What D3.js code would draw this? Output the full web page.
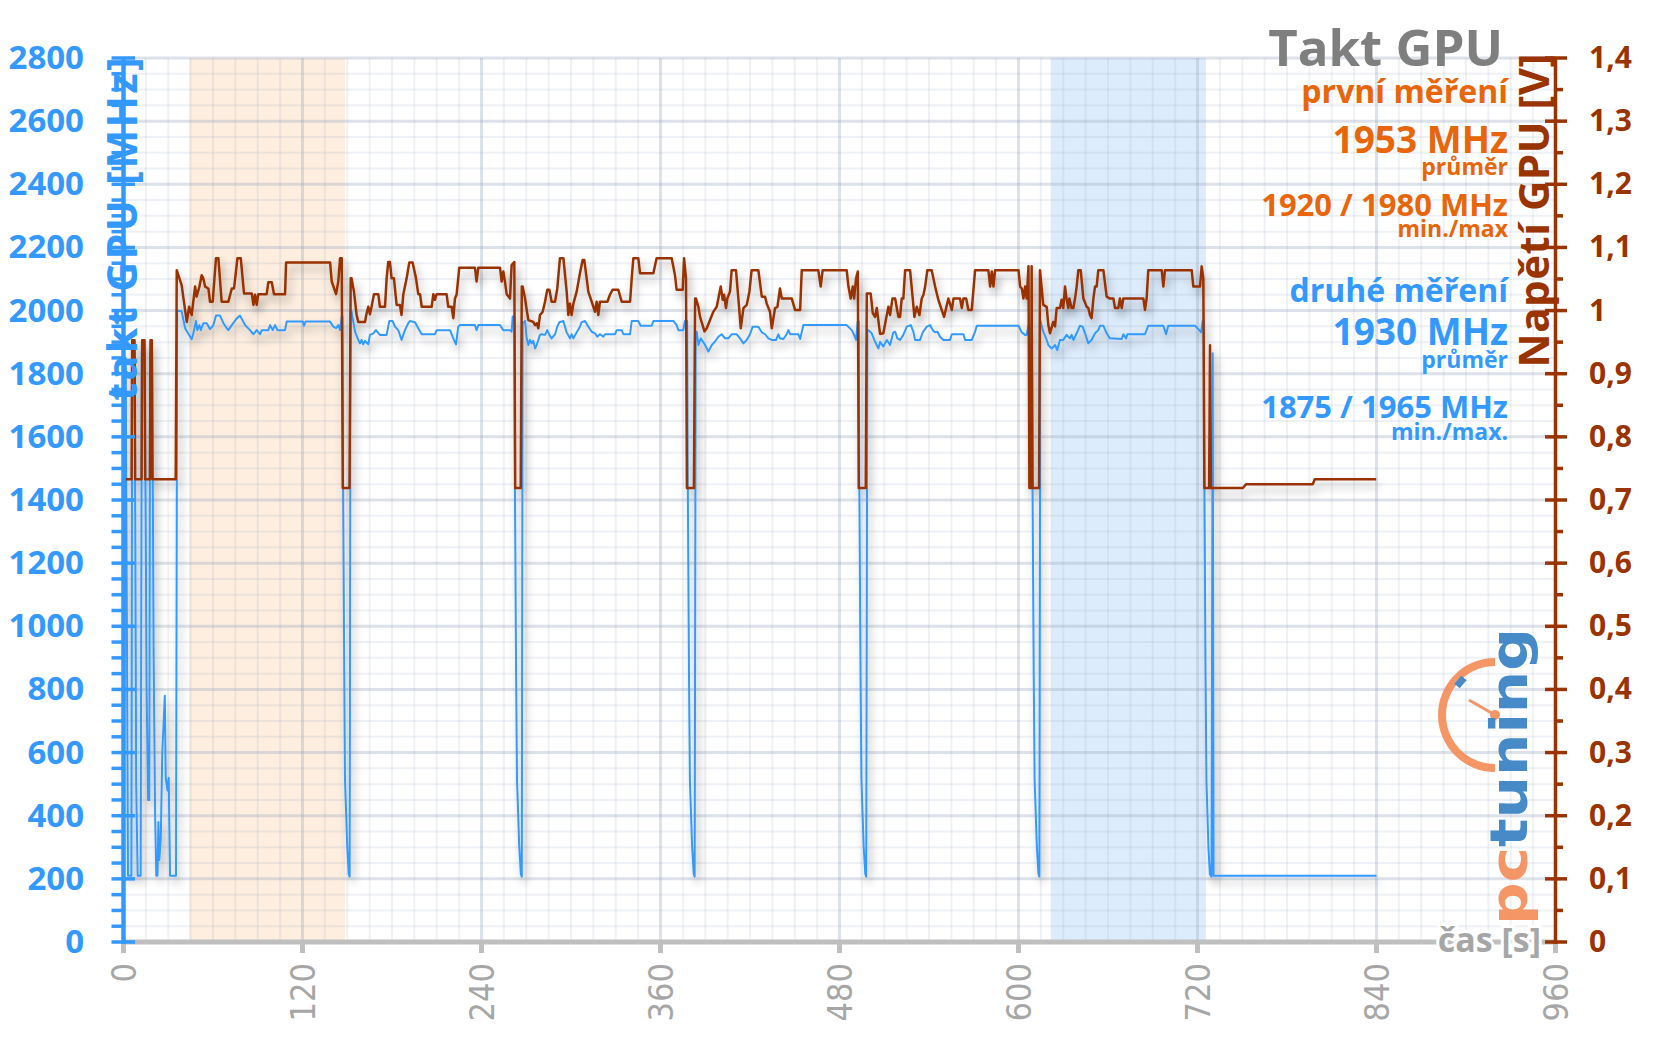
<!DOCTYPE html>
<html>
<head>
<meta charset="utf-8">
<script src="https://cdn.jsdelivr.net/npm/d3@7"></script>
<style>
  body { margin: 0; background: #fff; }
  svg { display: block; font-family: "Open Sans", Lato, sans-serif; }
</style>
</head>
<body>
<svg id="chart" width="1656" height="1044"></svg>
<script>
// tick values
const casTicks = [0, 120, 240, 360, 480, 600, 720, 840, 960];
const taktTicks = [0, 200, 400, 600, 800, 1000, 1200, 1400, 1600, 1800, 2000, 2200, 2400, 2600, 2800];
const napetiTicks = [0, 0.1, 0.2, 0.3, 0.4, 0.5, 0.6, 0.7, 0.8, 0.9, 1, 1.1, 1.2, 1.3, 1.4];

// highlighted time windows [s]
const prvniOkno = [44, 148.5];
const druheOkno = [621.6, 725.6];

// GPU clock [MHz] over time [s]
const taktData = [
  [0,210],[1.5,1850],[3,210],[5.3,210],[5.8,1866],[7.5,1866],[8.5,500],[9.5,210],[11.5,210],[12.3,1866],
  [14.2,1866],[15.5,800],[16.5,450],[17.3,450],[17.8,1866],[19.2,1866],[20.2,900],[21.2,400],[22,210],
  [22.8,210],[23.4,380],[24,260],[25,330],[26,600],[27.7,780],[28.3,520],[29.5,480],[30.3,520],[31.2,210],
  [35.2,210],[36,2000],
  [37.5,1999],[39,1997],[41.3,1944],[45.7,1909],[46.8,1928],[48.6,1967],[49.5,1938],[50.9,1954],[51.8,1938],
  [53.6,1960],[55.8,1960],[58,1941],[60.3,1954],[62,1984],[64.7,1984],[67,1960],[69.2,1944],[70.3,1938],
  [72.6,1954],[75.9,1975],[78.1,1984],[81.5,1954],[84.8,1938],[87.1,1925],[89.3,1938],[91.5,1925],[92.7,1938],
  [97.1,1938],[98.3,1954],[100,1938],[101.6,1954],[103.2,1938],[108.3,1938],[109.4,1965],[120.2,1965],
  [121,1952],[122,1965],[138.5,1965],[140.7,1949],[142.5,1944],[144,1954],[145.2,1938],[146.3,1981],
  [146.8,1981],[147.2,1450],[148,850],[148.5,513],[150,302],[151,215],[151.6,207],[152.2,1997],
  [152.9,1997],[155.2,1933],[157.4,1907],[158.5,1896],[159.6,1907],[160.7,1893],[161.9,1904],[164.1,1893],
  [165.2,1923],[167.5,1928],[169.2,1938],[171.9,1923],[176.4,1923],[178.2,1967],[180.4,1967],[182,1949],
  [184.2,1938],[186.4,1907],[188.7,1938],[190.9,1960],[192,1967],[195.4,1963],[197.6,1944],[199.9,1925],
  [208.8,1925],[209.9,1938],[218.9,1938],[221.1,1912],[222.9,1893],[224.4,1949],[225.6,1954],[235.6,1954],
  [236.7,1938],[237.9,1954],[252.4,1954],[254.6,1938],[259.1,1938],[260.2,1933],[260.9,1981],
  [262,1981],[262.4,1450],[263.2,850],[263.8,513],[265.3,302],[266.4,215],[267,207],[267.6,1960],
  [269.2,1967],[270.3,1912],[271.4,1891],[272.5,1907],[273.6,1896],[274.7,1904],[275.9,1880],[277,1891],
  [278.1,1907],[279.2,1923],[280.3,1925],[282.6,1923],[284.1,1938],[285.5,1923],[287,1912],[289.3,1925],
  [290.8,1949],[292.2,1963],[294.9,1967],[296,1949],[297.1,1931],[299.3,1912],[300.4,1925],[301.6,1912],
  [303.8,1931],[306,1949],[307.1,1963],[309.4,1967],[311.6,1949],[313.9,1933],[316.1,1928],[317.6,1917],
  [319.4,1925],[321.7,1917],[322.8,1925],[329.5,1925],[330.6,1938],[334,1938],[335.1,1925],[339.6,1925],
  [340.7,1967],[345.1,1967],[346.7,1952],[354.1,1952],[355.2,1967],[368.6,1967],[370.8,1954],[372,1938],
  [375.3,1938],[376.4,1967],
  [377.9,1967],[378.3,1450],[379.1,850],[379.7,513],[381.2,302],[382.3,215],[382.9,207],[383.6,1933],
  [384.3,1933],[385.4,1891],[387,1912],[389.9,1891],[392.1,1870],[394.4,1891],[396.6,1902],[398.8,1917],
  [401,1925],[403.3,1912],[405.5,1912],[407.7,1925],[411,1925],[413.3,1912],[415.6,1896],[417.8,1907],
  [420,1925],[421.8,1949],[425.6,1949],[427.9,1931],[430.1,1925],[432.3,1912],[434.6,1907],[437.5,1907],
  [439,1925],[440.1,1912],[442.4,1910],[444.6,1925],[445.7,1938],[447,1925],[452.4,1925],[453.6,1910],
  [455.8,1954],[484.8,1954],[488.2,1938],[489.3,1928],[491.1,1907],[492.2,1965],
  [492.9,1965],[493.3,1450],[494.1,850],[494.7,513],[496.2,302],[497.3,215],[497.9,207],[498.7,1938],
  [499.4,1938],[501.6,1928],[503.8,1902],[506.1,1880],[507.2,1901],[509.4,1886],[511.7,1907],[513.9,1891],
  [516.1,1931],[517.3,1933],[518.8,1912],[520.6,1907],[522.8,1923],[525.1,1949],[527.8,1954],[529.5,1933],
  [530.7,1907],[534,1907],[535.8,1931],[538.5,1949],[540.7,1954],[542.5,1938],[544.1,1931],[545.7,1933],
  [547.4,1917],[549.7,1907],[554.1,1907],[555.3,1925],[563.1,1925],[564.2,1907],[568.7,1907],[570.9,1933],
  [572,1952],[600,1952],[602.2,1931],[604.4,1923],[605.5,1923],[606.7,1954],
  [607.3,1954],[607.6,1450],[608.3,1450],[608.9,1967],[609.4,1450],[610.2,850],[610.8,513],[612.3,302],
  [613.4,215],[614,207],[614.6,1970],
  [616.6,1933],[618.9,1907],[620,1891],[622.2,1880],[624.5,1891],[626,1875],[627.8,1907],[630,1907],
  [632.3,1923],[634.5,1912],[635.6,1923],[636.8,1907],[639,1928],[641.2,1952],[643,1949],[644.6,1928],
  [646.8,1896],[649,1907],[651.3,1928],[653.5,1938],[654.6,1952],[656.9,1952],[659.1,1928],[661.3,1912],
  [669.2,1910],[670.3,1925],[672.1,1912],[673,1925],[684.8,1925],[687,1952],[697.1,1952],[698.9,1925],
  [700.4,1952],[718.3,1952],[721.2,1938],[722.4,1931],[723.5,1967],
  [724.2,1967],[724.6,1450],[725.4,850],[726,513],[727.3,302],[728.3,215],[729.4,207],[730.2,1865],
  [730.8,210],[840,210]
];

// GPU voltage [V] over time [s]
const napetiData = [
  [0,0.733],[5.4,0.733],[5.8,0.953],[7.4,0.953],[7.8,0.733],[12.1,0.733],[12.5,0.953],[14.1,0.953],[14.5,0.733],
  [17.7,0.733],[18.1,0.953],[19,0.953],[19.4,0.733],[35,0.733],[35.7,1.064],
  [39,1.040],[42.4,0.982],[44,1.006],[45.7,0.993],[48,1.038],[49,1.022],[50.9,1.038],[52.4,1.056],[53.5,1.051],
  [54.7,1.038],[56.9,1.035],[58,1.014],[59.8,1.014],[62,1.083],[63.6,1.083],[65.8,1.014],[70.3,1.014],
  [72.6,1.035],[74.1,1.035],[76.4,1.083],[78.6,1.083],[80.8,1.027],[86,1.027],[87.1,1.009],[88.2,1.025],
  [89.3,1.009],[90.4,1.026],[96,1.026],[97.1,1.045],[99.4,1.045],[100.9,1.026],[108.3,1.026],[109,1.076],
  [138.5,1.076],[139.6,1.046],[142.5,1.026],[144,1.046],[145.2,1.083],[146.3,1.083],
  [147,0.719],[151.5,0.719],[152.3,1.051],
  [152.9,1.051],[154.5,1.030],[156.3,0.993],[157.4,0.982],[161.9,0.982],[163,0.996],[164.1,1.006],[165.2,0.994],
  [166.3,1.006],[167.9,1.026],[170.8,1.026],[171.9,1.006],[175.3,1.006],[176.4,1.051],[177.5,1.077],[178.6,1.077],
  [179.7,1.051],[181.3,1.051],[183.1,1.009],[185.3,1.009],[186.4,0.993],[187.6,1.026],[189.8,1.051],[191.6,1.076],
  [193.8,1.076],[196.1,1.051],[197.6,1.026],[198.8,1.026],[199.9,1.006],[206.6,1.006],[207.7,1.026],[208.8,1.017],
  [209.9,1.026],[216.6,1.026],[217.7,1.006],[220,1.006],[221.1,0.988],[222.2,1.019],[223.3,1.025],[225.1,1.068],
  [235.6,1.068],[236.7,1.046],[237.9,1.068],[252.4,1.068],[253.5,1.046],[254.6,1.062],[255.7,1.046],[256.9,1.026],
  [259.1,1.019],[260.2,1.072],[262,1.077],
  [262.6,0.719],[266.3,0.719],[267,1.038],
  [267.6,1.038],[269.2,1.019],[270.3,1.001],[271.4,0.985],[274.7,0.982],[275.9,0.977],[277,0.980],[278.1,0.972],
  [279.2,0.993],[281,0.998],[282.6,1.014],[284.1,1.033],[285.5,1.033],[287,1.014],[289.3,1.014],[290.8,1.035],
  [292.6,1.083],[294.9,1.083],[297.1,1.030],[298.2,0.993],[299.3,1.011],[300.4,0.993],[301.6,1.011],[303.8,1.030],
  [306,1.059],[307.8,1.080],[308.9,1.080],[310.5,1.051],[311.6,1.030],[313.9,1.014],[316.1,0.998],[317.2,1.014],
  [318.3,0.993],[319.4,1.014],[324.4,1.014],[326.1,1.025],[327.9,1.033],[331.7,1.033],[334,1.014],[339.6,1.014],
  [340.7,1.051],[341.8,1.083],[345.1,1.083],[346.3,1.059],[355.2,1.059],[357.4,1.083],[367.5,1.083],[369.7,1.056],
  [370.8,1.033],[374.9,1.033],[375.8,1.083],[377.1,1.051],
  [377.7,0.719],[382.4,0.719],[383.2,1.019],
  [383.8,1.019],[385.4,1.006],[386.5,0.990],[389.5,0.967],[391,0.972],[393.2,0.985],[395.4,0.998],[397.7,1.006],
  [398.8,1.019],[400.4,1.038],[401.7,1.017],[402.6,1.025],[403.9,1.004],[404.8,1.019],[406.6,1.030],[407.7,1.064],
  [410.6,1.064],[412.2,1.019],[413.8,0.972],[415.6,1.004],[417.8,1.009],[419.6,1.030],[421.1,1.064],[425.6,1.064],
  [427.9,1.022],[430.1,1.022],[431.2,1.011],[433.4,0.998],[434.6,0.972],[436.8,1.004],[438.4,1.006],[440.1,1.035],
  [441.3,1.019],[448,1.019],[450.2,1.001],[453.6,1.001],[454.7,1.064],[465.8,1.064],[467.4,1.038],[468.7,1.064],
  [484.8,1.064],[486,1.038],[487.5,1.019],[488.9,1.038],[489.8,1.019],[491.1,1.051],[492.3,1.062],
  [492.9,0.719],[497.6,0.719],[498.3,1.027],
  [500.9,1.027],[502.3,0.996],[503.8,0.990],[505,1.004],[507.2,0.963],[509.4,0.964],[511.7,0.993],[512.8,1.006],
  [513.9,0.993],[515.5,1.019],[517.3,1.019],[518.4,1.004],[519.5,0.990],[520.6,0.990],[521.7,1.019],[522.8,1.019],
  [524,1.064],[527.3,1.064],[529.1,1.019],[530.2,0.990],[531.8,1.006],[533.6,0.993],[535.1,1.019],[536.3,1.025],
  [537.4,1.038],[538.9,1.064],[541.8,1.064],[544.1,1.038],[546.3,1.017],[548.5,1.001],[550.1,0.990],[551.5,1.004],
  [553,1.019],[555.3,1.001],[556.4,1.019],[560.8,1.019],[562,1.004],[563.1,1.019],[564.9,1.019],[566.4,1.001],
  [568.7,1.001],[569.3,1.019],[570.9,1.064],[579.8,1.064],[581,1.038],[582.1,1.062],[583.2,1.038],[584.3,1.064],
  [600,1.064],[601.1,1.038],[602.2,1.035],[603.3,1.019],[604.4,1.038],[605.5,1.019],[606.7,1.070],
  [607.3,0.719],[608.4,0.719],[608.8,1.070],[609.4,0.719],[613.8,0.719],[614.4,1.064],
  [616.6,1.009],[618.9,1.006],[620,0.977],[621.1,0.964],[623.3,0.982],[624.5,0.975],[625.6,1.004],[627.8,1.004],
  [628.9,1.017],[630,1.004],[631.2,1.038],[632.3,1.017],[633.4,1.004],[634.1,1.019],[635.6,1.004],[636.8,1.004],
  [637.9,1.019],[639,1.038],[640.1,1.064],[641.7,1.064],[643.5,1.019],[645.7,1.006],[646.8,1.004],[647.9,0.993],
  [649,0.988],[650.2,1.019],[651.3,1.038],[652.4,1.038],[653.5,1.064],[656.9,1.064],[659.1,1.022],[661.3,1.019],
  [663.6,1.019],[664.7,1.004],[666.9,1.004],[668,1.019],[669.2,1.004],[670.3,1.019],[683.7,1.019],[684.8,1.001],
  [685.9,1.019],[687,1.064],[696,1.064],[697.1,1.038],[698.2,1.064],[716.1,1.064],[717.2,1.038],[721.7,1.038],
  [722.8,1.070],[723.9,1.051],
  [724.6,0.719],[727.8,0.719],[728.4,0.945],[729,0.719],[750.4,0.719],[752.5,0.725],[797.3,0.725],[798.6,0.733],
  [839.8,0.733]
];

const barvaTakt = '#3399ff';
const barvaNapeti = '#993300';
const barvaPrvni = '#e8650a';

const svg = d3.select('#chart');
const plotLeft = 123.5, plotRight = 1555.5, plotTop = 58, plotBottom = 942;

const x = d3.scaleLinear().domain([0, 960]).range([plotLeft, plotRight]);
const yT = d3.scaleLinear().domain([0, 2800]).range([plotBottom, plotTop]);
const yN = d3.scaleLinear().domain([0, 1.4]).range([plotBottom, plotTop]);

// shadow filter for the data lines
const defs = svg.append('defs');
const f = defs.append('filter').attr('id', 'stin')
  .attr('x', '-5%').attr('y', '-5%').attr('width', '110%').attr('height', '110%');
f.append('feGaussianBlur').attr('in', 'SourceAlpha').attr('stdDeviation', 5).attr('result', 'b');
f.append('feOffset').attr('in', 'b').attr('dx', 3).attr('dy', 6).attr('result', 'o');
f.append('feComponentTransfer').attr('in', 'o').attr('result', 'oa')
  .append('feFuncA').attr('type', 'linear').attr('slope', 0.35);
const fm = f.append('feMerge');
fm.append('feMergeNode').attr('in', 'oa');
fm.append('feMergeNode').attr('in', 'SourceGraphic');

// highlighted windows
svg.append('rect')
  .attr('x', x(prvniOkno[0])).attr('y', plotTop)
  .attr('width', x(prvniOkno[1]) - x(prvniOkno[0])).attr('height', plotBottom - plotTop)
  .attr('fill', '#fdeee0');
svg.append('rect')
  .attr('x', x(druheOkno[0])).attr('y', plotTop)
  .attr('width', x(druheOkno[1]) - x(druheOkno[0])).attr('height', plotBottom - plotTop)
  .attr('fill', '#ddecfc');

// grid
const grid = svg.append('g');
grid.selectAll('line.v').data(d3.range(0, 961, 15)).join('line')
  .attr('x1', d => x(d)).attr('x2', d => x(d)).attr('y1', plotTop).attr('y2', plotBottom)
  .attr('stroke', d => d % 120 === 0 ? 'rgba(150,165,190,0.32)' : 'rgba(150,165,190,0.16)')
  .attr('stroke-width', d => d % 120 === 0 ? 3 : 2);
grid.selectAll('line.h').data(d3.range(0, 2801, 50)).join('line')
  .attr('x1', plotLeft).attr('x2', plotRight).attr('y1', d => yT(d)).attr('y2', d => yT(d))
  .attr('stroke', d => d % 200 === 0 ? 'rgba(150,165,190,0.32)' : 'rgba(150,165,190,0.16)')
  .attr('stroke-width', d => d % 200 === 0 ? 3 : 2);

// data lines
const lines = svg.append('g').attr('filter', 'url(#stin)');
lines.append('path').datum(taktData)
  .attr('fill', 'none').attr('stroke', barvaTakt).attr('stroke-width', 2)
  .attr('stroke-linejoin', 'round')
  .attr('d', d3.line().x(d => x(d[0])).y(d => yT(d[1])));
lines.append('path').datum(napetiData)
  .attr('fill', 'none').attr('stroke', barvaNapeti).attr('stroke-width', 2.5)
  .attr('stroke-linejoin', 'round')
  .attr('d', d3.line().x(d => x(d[0])).y(d => yN(d[1])));

// x axis
svg.append('line').attr('x1', plotLeft).attr('x2', plotRight).attr('y1', plotBottom).attr('y2', plotBottom)
  .attr('stroke', '#bfbfbf').attr('stroke-width', 5);
svg.selectAll('line.xt').data(casTicks).join('line')
  .attr('x1', d => x(d)).attr('x2', d => x(d)).attr('y1', plotBottom).attr('y2', plotBottom + 11)
  .attr('stroke', '#bfbfbf').attr('stroke-width', 5);
svg.selectAll('text.xl').data(casTicks).join('text')
  .attr('transform', d => `translate(${x(d) + 12},963) rotate(-90)`)
  .attr('text-anchor', 'end')
  .attr('font-family', '"Liberation Sans Narrow", "DejaVu Sans Condensed", sans-serif')
  .attr('font-size', 34).attr('fill', '#a6a6a6')
  .text(d => d);
svg.append('text').attr('x', 1541).attr('y', 952).attr('text-anchor', 'end')
  .attr('font-size', 34).attr('font-weight', 700).attr('fill', '#a6a6a6')
  .attr('stroke', '#fff').attr('stroke-width', 6).attr('paint-order', 'stroke')
  .text('čas [s]');

// left axis (clock)
svg.selectAll('line.lt').data(d3.range(0, 2801, 50)).join('line')
  .attr('x1', 111.5).attr('x2', d => d % 200 === 0 ? 135 : plotLeft)
  .attr('y1', d => yT(d)).attr('y2', d => yT(d))
  .attr('stroke', barvaTakt).attr('stroke-width', 3.5);
svg.append('line').attr('x1', plotLeft).attr('x2', plotLeft).attr('y1', plotTop).attr('y2', plotBottom + 2)
  .attr('stroke', barvaTakt).attr('stroke-width', 4.5);
svg.selectAll('text.ll').data(taktTicks).join('text')
  .attr('x', 84).attr('y', d => yT(d) + 11).attr('text-anchor', 'end')
  .attr('font-size', 33).attr('font-weight', 700).attr('fill', barvaTakt)
  .text(d => d);
svg.append('text').attr('transform', 'translate(137,55) rotate(-90)')
  .attr('text-anchor', 'end').attr('font-size', 41).attr('font-weight', 700).attr('fill', barvaTakt)
  .attr('letter-spacing', 2.5)
  .text('takt GPU [MHz]');

// right axis (voltage)
svg.selectAll('line.rt').data(d3.range(0, 29).map(i => i * 0.05)).join('line')
  .attr('x1', (d, i) => i % 2 === 0 ? 1545 : plotRight).attr('x2', (d, i) => i % 2 === 0 ? 1567 : 1563)
  .attr('y1', d => yN(d)).attr('y2', d => yN(d))
  .attr('stroke', barvaNapeti).attr('stroke-width', 3.5);
svg.append('line').attr('x1', plotRight).attr('x2', plotRight).attr('y1', plotTop).attr('y2', plotBottom + 2)
  .attr('stroke', barvaNapeti).attr('stroke-width', 3.5);
svg.selectAll('text.rl').data(napetiTicks).join('text')
  .attr('x', 1589).attr('y', d => yN(d) + 10)
  .attr('font-size', 30).attr('font-weight', 700).attr('fill', barvaNapeti)
  .text(d => String(+d.toFixed(1)).replace('.', ','));
svg.append('text').attr('transform', 'translate(1549,53) rotate(-90)')
  .attr('text-anchor', 'end').attr('font-size', 42).attr('font-weight', 700).attr('fill', barvaNapeti)
  .attr('letter-spacing', 0.5)
  .text('Napětí GPU [V]');

// title and summary texts
const popisky = [
  { t: 'Takt GPU', y: 66, s: 51, c: '#7f7f7f', x: 1503 },
  { t: 'první měření', y: 103, s: 32, c: barvaPrvni },
  { t: '1953 MHz', y: 153, s: 37, c: barvaPrvni },
  { t: 'průměr', y: 175, s: 23, c: barvaPrvni },
  { t: '1920 / 1980 MHz', y: 216, s: 31, c: barvaPrvni },
  { t: 'min./max', y: 237, s: 23, c: barvaPrvni },
  { t: 'druhé měření', y: 302, s: 32, c: barvaTakt },
  { t: '1930 MHz', y: 345, s: 37, c: barvaTakt },
  { t: 'průměr', y: 368, s: 23, c: barvaTakt },
  { t: '1875 / 1965 MHz', y: 418, s: 31, c: barvaTakt },
  { t: 'min./max.', y: 440, s: 23, c: barvaTakt }
];
svg.selectAll('text.pop').data(popisky).join('text')
  .attr('x', d => d.x || 1508).attr('y', d => d.y).attr('text-anchor', 'end')
  .attr('font-size', d => d.s).attr('font-weight', 700).attr('fill', d => d.c)
  .text(d => d.t);

// pctuning logo
const logo = svg.append('g').attr('opacity', 0.95);
logo.append('path')
  .attr('d', d3.arc().innerRadius(49).outerRadius(57).startAngle(-Math.PI).endAngle(0)())
  .attr('transform', 'translate(1495,715)')
  .attr('fill', '#f4915e');
logo.append('line').attr('x1', 1457).attr('y1', 686).attr('x2', 1464).attr('y2', 678)
  .attr('stroke', '#3d85c6').attr('stroke-width', 7);
logo.append('line').attr('x1', 1495).attr('y1', 715).attr('x2', 1469).attr('y2', 700)
  .attr('stroke', '#f4915e').attr('stroke-width', 3);
logo.append('circle').attr('cx', 1495).attr('cy', 715).attr('r', 5).attr('fill', '#f4915e');
const lt = logo.append('text').attr('transform', 'translate(1527,925) rotate(-90)')
  .attr('font-family', '"DejaVu Sans", sans-serif').attr('font-size', 52).attr('font-weight', 700)
  .attr('textLength', 297).attr('lengthAdjust', 'spacingAndGlyphs');
lt.append('tspan').attr('fill', '#f4915e').text('pc');
lt.append('tspan').attr('fill', '#3d85c6').text('tuning');
</script>
</body>
</html>
